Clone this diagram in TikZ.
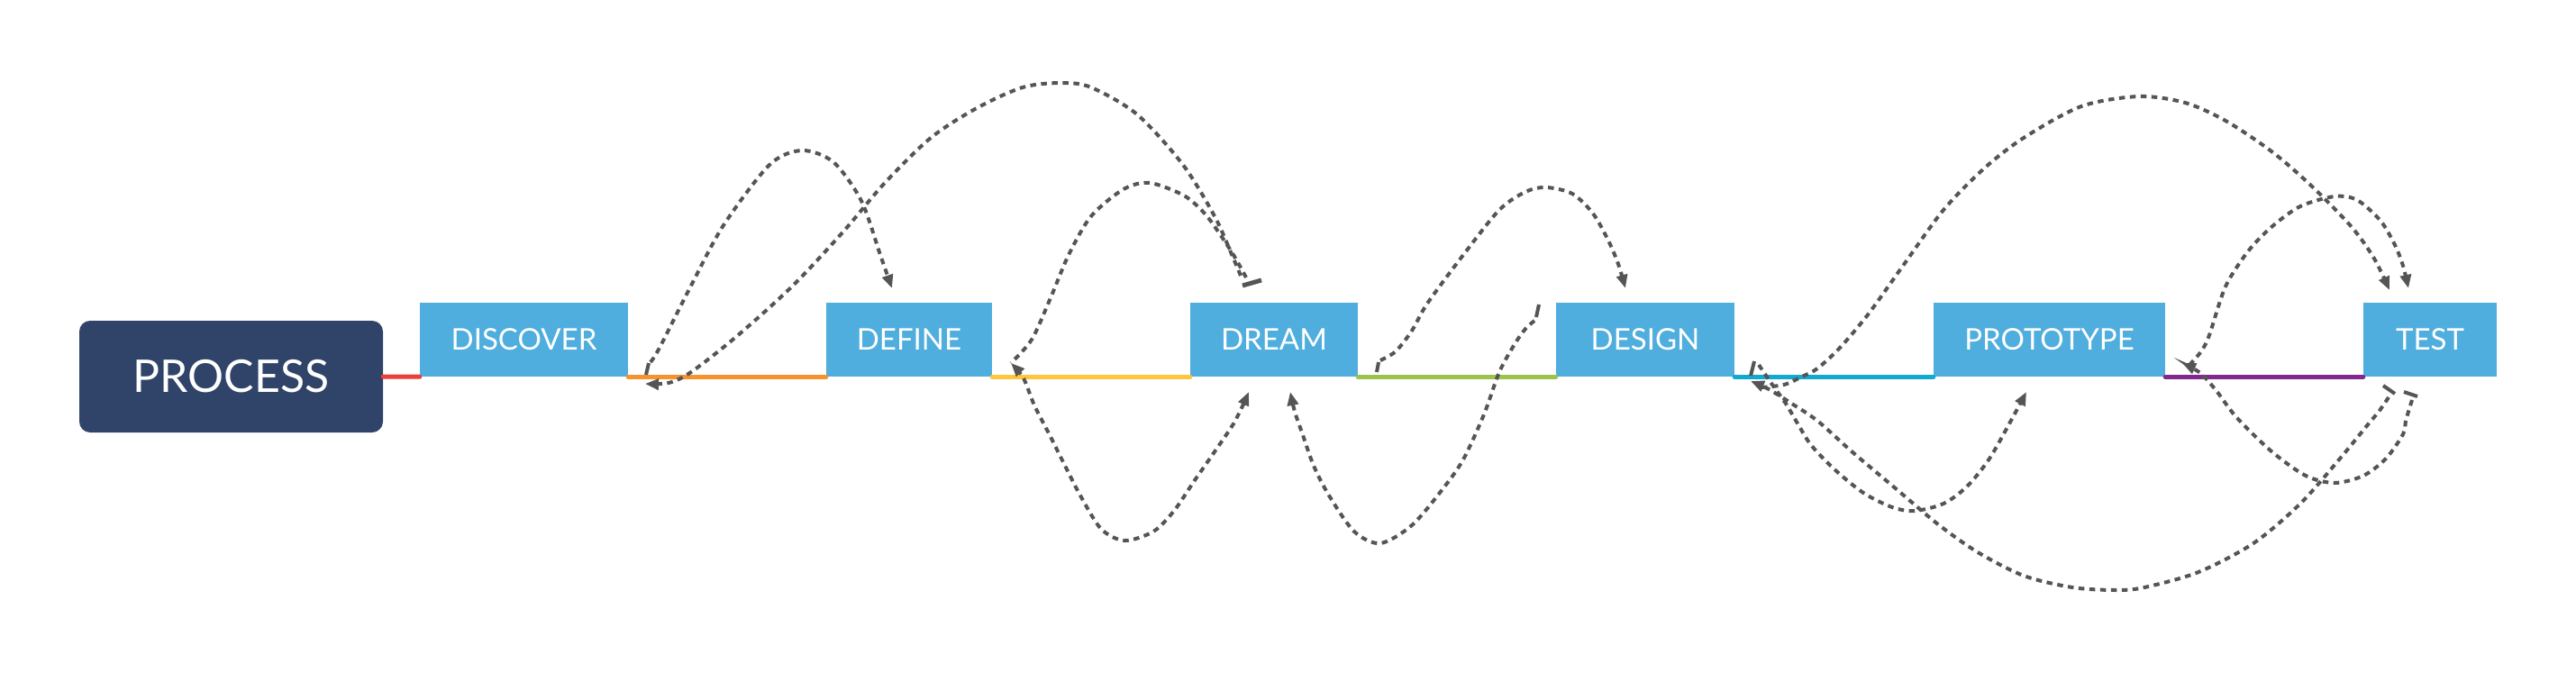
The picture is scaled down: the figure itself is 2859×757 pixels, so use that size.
\documentclass[tikz,border=0pt]{standalone}
\usepackage{fontspec}
\setmainfont{Lato}
\usetikzlibrary{arrows.meta}
\definecolor{boxblue}{HTML}{4FAEDE}
\definecolor{navy}{HTML}{2F4468}
\definecolor{lred}{HTML}{E8403A}
\definecolor{lorange}{HTML}{F6932E}
\definecolor{lyellow}{HTML}{FDC63C}
\definecolor{lgreen}{HTML}{9DC34A}
\definecolor{lcyan}{HTML}{12A9CE}
\definecolor{lpurple}{HTML}{82298F}
\definecolor{relgray}{HTML}{555555}
\begin{document}
\begin{tikzpicture}[x=1pt,y=-1pt,
  stage/.style={fill=boxblue, text=white, inner sep=0pt, minimum height=82pt, font=\fontsize{33}{40}\selectfont},
  root/.style={fill=navy, text=white, rounded corners=12pt, minimum width=337pt, minimum height=124pt, inner sep=0pt, font=\fontsize{50}{60}\selectfont},
  branch/.style={line width=5pt, line cap=round},
  rel/.style={draw=relgray, line width=4pt, dash pattern=on 6.5pt off 5.5pt},
  relarrow/.style={rel, -{Triangle[length=15pt,width=12pt]}},
  relboth/.style={rel, {Triangle[length=15pt,width=12pt]}-{Triangle[length=15pt,width=12pt]}},
  tickmark/.style={draw=relgray, line width=4pt}
]
\useasboundingbox (0,0) rectangle (2859,757);

% topics
\node[root] (process) at (256.5,418) {PROCESS};
\node[stage, minimum width=231pt] (discover) at (581.5,377) {DISCOVER};
\node[stage, minimum width=184pt] (define) at (1009,377) {DEFINE};
\node[stage, minimum width=186pt] (dream) at (1414,377) {DREAM};
\node[stage, minimum width=198pt] (design) at (1826,377) {DESIGN};
\node[stage, minimum width=257pt] (prototype) at (2274.5,377) {PROTOTYPE};
\node[stage, minimum width=148pt] (test) at (2697,377) {TEST};

% branch lines
\draw[branch, draw=lred] (process.east) -- (discover.south west);
\draw[branch, draw=lorange] (discover.south east) -- (define.south west);
\draw[branch, draw=lyellow] (define.south east) -- (dream.south west);
\draw[branch, draw=lgreen] (dream.south east) -- (design.south west);
\draw[branch, draw=lcyan] (design.south east) -- (prototype.south west);
\draw[branch, draw=lpurple] (prototype.south east) -- (test.south west);

% attachment points
\coordinate (discoverR1) at (722,402);
\coordinate (discoverR2) at (716,426);
\coordinate (defineT) at (990,320);
\coordinate (defineR) at (1122,403);
\coordinate (dreamT1) at (1377,306);
\coordinate (dreamT2) at (1383,308);
\coordinate (dreamB1) at (1386,435);
\coordinate (dreamB2) at (1432,435);
\coordinate (dreamR) at (1532,400);
\coordinate (designT) at (1804,320);
\coordinate (designL) at (1703,356);
\coordinate (designR1) at (1955,430);
\coordinate (designR2) at (1952,405);
\coordinate (designR3) at (1943,423);
\coordinate (protoB) at (2249,435);
\coordinate (protoR1) at (2422,403);
\coordinate (protoR2) at (2430,405);
\coordinate (testT1) at (2652,322);
\coordinate (testT2) at (2673,320);
\coordinate (testB1) at (2651,441);
\coordinate (testB2) at (2677,444);

% relationships
\draw[relarrow] plot[smooth] coordinates {(discoverR1) (732,386) (767,317) (803,250) (854,183) (890,167) (925,180) (956,223) (977,283) (defineT)};
\draw[relarrow] plot[smooth] coordinates {(dreamT1) (1366,280) (1348,240) (1313,183) (1262,127) (1211,97) (1178,92) (1135,97) (1084,120) (1033,153) (982,203) (936,257) (880,317) (818,373) (767,413) (742,425) (discoverR2)};
\draw[rel] plot[smooth] coordinates {(dreamT2) (1369,283) (1354,260) (1337,237) (1314,217) (1276,203) (1247,210) (1211,240) (1186,283) (1165,333) (1145,377) (defineR)};
\draw[relboth] plot[smooth] coordinates {(dreamB1) (1371,467) (1349,500) (1326,533) (1303,567) (1280,590) (1248,600) (1222,587) (1199,550) (1182,517) (1165,483) (1148,450) (1136,420) (defineR)};
\draw[relarrow] plot[smooth] coordinates {(dreamR) (1549,390) (1567,367) (1584,337) (1624,283) (1664,233) (1693,213) (1716,208) (1745,215) (1768,237) (1785,267) (1796,293) (designT)};
\draw[relarrow] plot[smooth] coordinates {(designL) (1693,365) (1681,382) (1664,413) (1647,460) (1624,510) (1601,543) (1567,583) (1532,603) (1503,590) (1475,550) (1458,517) (1446,483) (1437,457) (dreamB2)};
\draw[relarrow] plot[smooth] coordinates {(designR1) (1980,427) (2000,418) (2017,409) (2042,386) (2074,348) (2112,295) (2157,233) (2202,187) (2246,153) (2310,118) (2374,107) (2425,114) (2470,134) (2521,168) (2565,206) (2610,252) (2635,287) (testT1)};
\draw[relarrow] plot[smooth] coordinates {(designR2) (1967,427) (1982,448) (1995,470) (2010,494) (2036,521) (2068,547) (2100,563) (2125,567) (2157,559) (2183,540) (2208,509) (2234,463) (protoB)};
\draw[relarrow] plot[smooth] coordinates {(testB1) (2640,457) (2629,470) (2597,509) (2553,559) (2501,603) (2440,635) (2380,652) (2348,655) (2300,652) (2246,639) (2195,613) (2151,582) (2106,544) (2055,501) (2017,467) (1987,447) (1963,432) (designR3)};
\draw[relarrow] plot[smooth] coordinates {(testB2) (2673,457) (2670,467) (2667,482) (2648,509) (2623,528) (2591,536) (2559,528) (2521,501) (2482,463) (2460,434) (2442,414) (protoR1)};
\draw[relarrow] plot[smooth] coordinates {(protoR2) (2443,390) (2452,372) (2470,318) (2495,279) (2521,252) (2553,229) (2591,218) (2616,222) (2642,245) (2658,272) (2667,295) (testT2)};

% start marks
\draw[tickmark] (717,416) -- (720,403);
\draw[tickmark, line width=5pt] (1379,317) -- (1400,311);
\draw[tickmark] (1528,413) -- (1530,402);
\draw[tickmark] (1705,352) -- (1708,338);
\draw[tickmark] (1943,417) -- (1947,401);
\draw[tickmark] (2645,428) -- (2658,437);
\draw[tickmark] (2668,435) -- (2683,440);
\end{tikzpicture}
\end{document}
